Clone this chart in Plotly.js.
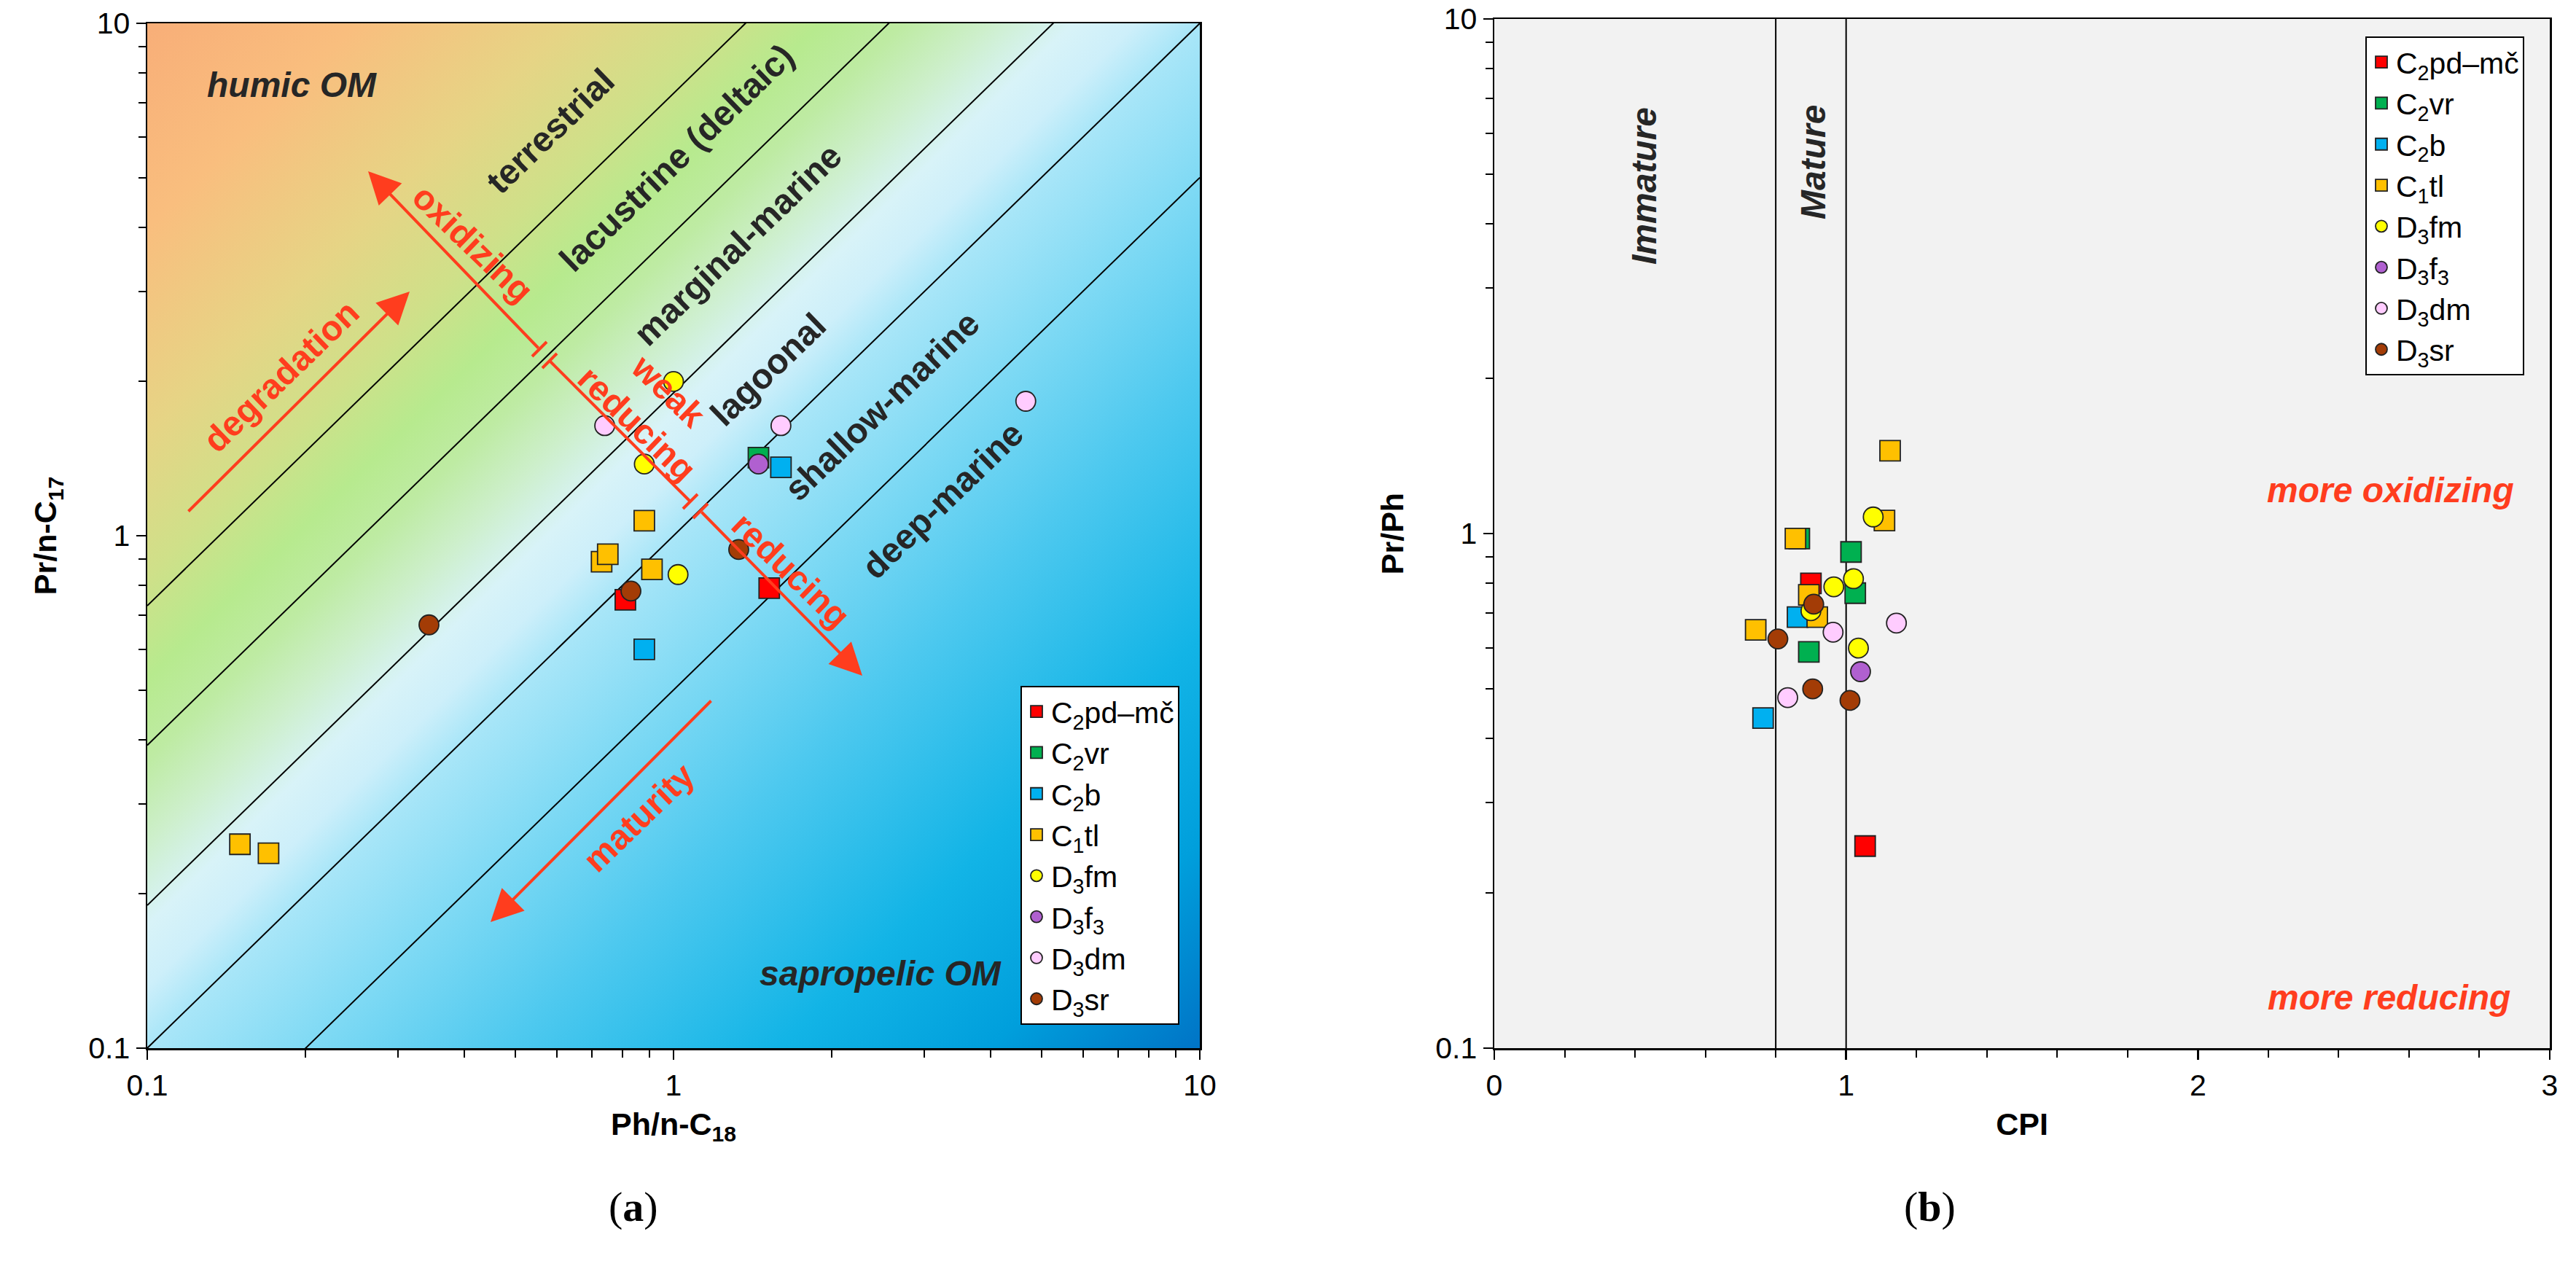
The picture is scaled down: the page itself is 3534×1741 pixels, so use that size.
<!DOCTYPE html>
<html>
<head>
<meta charset="utf-8">
<script src="https://cdn.plot.ly/plotly-3.0.1.min.js"></script>
<style>html,body{margin:0;padding:0;background:#fff;}</style>
</head>
<body>
<div id="chart" style="width:3534px;height:1741px;"></div>
<script>
// ---------------- DATA ----------------
const seriesNames = ['C<sub>2</sub>pd–mč','C<sub>2</sub>vr','C<sub>2</sub>b','C<sub>1</sub>tl','D<sub>3</sub>fm','D<sub>3</sub>f<sub>3</sub>','D<sub>3</sub>dm','D<sub>3</sub>sr'];

// (a) Ph/n-C18 (x) vs Pr/n-C17 (y)
const phC18_C2pd = [0.81, 1.52];            const prC17_C2pd = [0.75, 0.79];
const phC18_C2vr = [1.45];                  const prC17_C2vr = [1.42];
const phC18_C2b  = [1.60, 0.88];            const prC17_C2b  = [1.36, 0.60];
const phC18_C1tl = [0.73, 0.75, 0.88, 0.91, 0.15, 0.17];
const prC17_C1tl = [0.89, 0.92, 1.07, 0.86, 0.25, 0.24];
const phC18_D3fm = [1.00, 0.88, 1.02];      const prC17_D3fm = [2.00, 1.38, 0.84];
const phC18_D3f3 = [1.45];                  const prC17_D3f3 = [1.38];
const phC18_D3dm = [0.74, 1.60, 4.67];      const prC17_D3dm = [1.64, 1.64, 1.83];
const phC18_D3sr = [0.343, 0.83, 1.33];     const prC17_D3sr = [0.67, 0.78, 0.94];

// (b) CPI (x) vs Pr/Ph (y)
const cpi_C2pd = [0.90, 1.054];             const prPh_C2pd = [0.80, 0.247];
const cpi_C2vr = [0.867, 1.014, 1.026, 0.894]; const prPh_C2vr = [0.978, 0.921, 0.766, 0.589];
const cpi_C2b  = [0.862, 0.764];            const prPh_C2b  = [0.688, 0.438];
const cpi_C1tl = [1.125, 1.109, 0.856, 0.894, 0.918, 0.743];
const prPh_C1tl = [1.449, 1.06, 0.978, 0.76, 0.688, 0.65];
const cpi_D3fm = [1.077, 1.021, 0.965, 0.900, 1.035];
const prPh_D3fm = [1.077, 0.817, 0.788, 0.708, 0.599];
const cpi_D3f3 = [1.041];                   const prPh_D3f3 = [0.539];
const cpi_D3dm = [1.143, 0.963, 0.834];     const prPh_D3dm = [0.67, 0.643, 0.48];
const cpi_D3sr = [0.908, 0.806, 0.905, 1.011]; const prPh_D3sr = [0.729, 0.624, 0.499, 0.474];

// environment boundaries (a): Pr/n-C17 = k * Ph/n-C18
const boundaryRatios = [7.3, 3.9, 1.9, 1, 0.5];
// (b) dividers
const cpiBounds = [0.8, 1.0];
const prPhBound = 1;

// axis tick labels
const logTickVals = [0.1, 1, 10];
const logTickText = ['0.1', '1', '10'];
const logMinorVals = [0.2, 0.3, 0.4, 0.5, 0.6, 0.7, 0.8, 0.9, 2, 3, 4, 5, 6, 7, 8, 9];

// ---------------- STYLE ----------------
const W = 3534, H = 1741;
const FONT = 'Arial, "Liberation Sans", sans-serif';
const RED = '#FF3D1E';
const DARK = '#262626';
const colors = ['#FF0000','#00B050','#00B0F0','#FFC000','#FFFF00','#B060D0','#FFCCFF','#A33C06'];
const symbols = ['square','square','square','square','circle','circle','circle','circle'];
const sizes = [28,28,28,28,27,27,27,27];

const aX = [phC18_C2pd, phC18_C2vr, phC18_C2b, phC18_C1tl, phC18_D3fm, phC18_D3f3, phC18_D3dm, phC18_D3sr];
const aY = [prC17_C2pd, prC17_C2vr, prC17_C2b, prC17_C1tl, prC17_D3fm, prC17_D3f3, prC17_D3dm, prC17_D3sr];
const bX = [cpi_C2pd, cpi_C2vr, cpi_C2b, cpi_C1tl, cpi_D3fm, cpi_D3f3, cpi_D3dm, cpi_D3sr];
const bY = [prPh_C2pd, prPh_C2vr, prPh_C2b, prPh_C1tl, prPh_D3fm, prPh_D3f3, prPh_D3dm, prPh_D3sr];

function px(x){ return x / W; }
function py(y){ return 1 - y / H; }

const traces = [];
boundaryRatios.forEach(k => {
  traces.push({type:'scatter', mode:'lines', x:[0.1, 10], y:[0.1*k, 10*k],
    xaxis:'x', yaxis:'y', line:{color:'black', width:2}, showlegend:false, hoverinfo:'skip'});
});
for (let i = 0; i < seriesNames.length; i++) {
  traces.push({type:'scatter', mode:'markers', x:aX[i], y:aY[i], name:seriesNames[i],
    xaxis:'x', yaxis:'y', legend:'legend',
    marker:{symbol:symbols[i], size:sizes[i], color:colors[i], line:{color:'#222', width:1.8}}});
}
for (let i = 0; i < seriesNames.length; i++) {
  traces.push({type:'scatter', mode:'markers', x:bX[i], y:bY[i], name:seriesNames[i],
    xaxis:'x2', yaxis:'y2', legend:'legend2',
    marker:{symbol:symbols[i], size:sizes[i], color:colors[i], line:{color:'#222', width:1.8}}});
}

// gradient background for (a)
const stops = [[0,'#F8AE78'],[0.1,'#F9BE7E'],[0.2,'#E6D485'],[0.27,'#CFE089'],[0.32,'#B7EA8E'],
  [0.36,'#BEEBA3'],[0.4,'#CDEFCB'],[0.44,'#D8F3F8'],[0.47,'#CDEFFA'],[0.5,'#A9E6F8'],
  [0.58,'#7DD9F4'],[0.67,'#4EC9EF'],[0.8,'#12B4E6'],[0.9,'#009FDC'],[1,'#0074C6']];
let svg = "<svg xmlns='http://www.w3.org/2000/svg' width='200' height='200' viewBox='0 0 200 200' preserveAspectRatio='none'><defs><linearGradient id='g' x1='0' y1='0' x2='1' y2='1'>";
stops.forEach(s => { svg += "<stop offset='" + s[0] + "' stop-color='" + s[1] + "'/>"; });
svg += "</linearGradient></defs><rect width='200' height='200' fill='url(#g)'/></svg>";
const gradURI = 'data:image/svg+xml;charset=utf-8,' + encodeURIComponent(svg);

function axisCommon(){
  return {showline:true, linecolor:'black', linewidth:2.5, mirror:true, showgrid:false, zeroline:false,
    ticks:'outside', ticklen:13, tickwidth:2.5, tickcolor:'black',
    tickfont:{family:FONT, size:41, color:'black'}, fixedrange:true};
}
const titleFont = {family:FONT, size:43, color:'black', weight:'bold'};
const minorLog = {tickmode:'array', tickvals:logMinorVals, ticks:'outside', ticklen:10, tickwidth:2, tickcolor:'black', showgrid:false};
const xaxis = Object.assign(axisCommon(), {type:'log', range:[-1,1], domain:[202/W, 1646/W], anchor:'y',
  tickmode:'array', tickvals:logTickVals, ticktext:logTickText, minor:minorLog,
  title:{text:'Ph/n-C<sub>18</sub>', font:titleFont, standoff:16}});
const yaxis = Object.assign(axisCommon(), {type:'log', range:[-1,1], domain:[1-1438/H, 1-32/H], anchor:'x',
  tickmode:'array', tickvals:logTickVals, ticktext:logTickText, minor:minorLog,
  title:{text:'Pr/n-C<sub>17</sub>', font:titleFont, standoff:30}});
const xaxis2 = Object.assign(axisCommon(), {type:'linear', range:[0,3], domain:[2050/W, 3498/W], anchor:'y2',
  dtick:1, tick0:0, minor:{dtick:0.2, ticks:'outside', ticklen:10, tickwidth:2, tickcolor:'black', showgrid:false},
  title:{text:'CPI', font:titleFont, standoff:16}});
const yaxis2 = Object.assign(axisCommon(), {type:'log', range:[-1,1], domain:[1-1438/H, 1-26/H], anchor:'x2',
  tickmode:'array', tickvals:logTickVals, ticktext:logTickText, minor:minorLog,
  title:{text:'Pr/Ph', font:titleFont, standoff:30}});

// annotations
const ann = [];
function label(text, x, y, angle, color, size, italic){
  ann.push({xref:'paper', yref:'paper', x:px(x), y:py(y), text:text, showarrow:false,
    textangle:angle, xanchor:'center', yanchor:'middle',
    font:{family:FONT, size:size, color:color, weight:'bold', style: italic ? 'italic' : 'normal'}});
}
label('humic OM', 400, 116, 0, DARK, 48, true);
label('terrestrial', 754, 180, -44, DARK, 48, false);
label('lacustrine (deltaic)', 928, 216, -44, DARK, 48, false);
label('marginal-marine', 1012, 335, -44, DARK, 48, false);
label('lagoonal', 1053, 507, -44, DARK, 48, false);
label('shallow-marine', 1209, 557, -44, DARK, 48, false);
label('deep-marine', 1293, 687, -44, DARK, 48, false);
label('sapropelic OM', 1208, 1335, 0, DARK, 48, true);
label('degradation', 385, 516, -44, RED, 48, false);
label('oxidizing', 649, 334, 44, RED, 48, false);
label('weak<br>reducing', 895, 559, 44, RED, 48, false);
label('reducing', 1085, 782, 44, RED, 48, false);
label('maturity', 876, 1121, -44, RED, 48, false);
label('Immature', 2256, 255, -90, DARK, 48, true);
label('Mature', 2488, 223, -90, DARK, 48, true);
label('more oxidizing', 3279, 672, 0, RED, 48, true);
label('more reducing', 3277, 1368, 0, RED, 48, true);
ann.push({xref:'paper', yref:'paper', x:px(833), y:py(1690), text:'(<b>a</b>)', showarrow:false,
  font:{family:'"Liberation Serif", "DejaVu Serif", serif', size:58, color:'black'}});
ann.push({xref:'paper', yref:'paper', x:px(2685), y:py(1690), text:'(<b>b</b>)', showarrow:false,
  font:{family:'"Liberation Serif", "DejaVu Serif", serif', size:58, color:'black'}});

function arrow(tx, ty, hx, hy){
  ann.push({xref:'paper', yref:'paper', x:px(hx), y:py(hy), ax:tx-hx, ay:ty-hy, text:'',
    showarrow:true, arrowhead:2, arrowsize:2.2, arrowwidth:4, arrowcolor:RED, standoff:0, startstandoff:0});
}
arrow(257, 703, 562, 400);   // degradation
arrow(740, 479, 505, 235);   // oxidizing
arrow(961, 701, 1183, 927);  // reducing
arrow(977, 960, 673, 1265);  // maturity

const shapes = [];
// (b) background
shapes.push({type:'rect', xref:'x2 domain', yref:'y2 domain', x0:0, x1:1, y0:0, y1:1,
  fillcolor:'#F2F2F2', line:{width:0}, layer:'below'});
cpiBounds.forEach(c => shapes.push({type:'line', xref:'x2', yref:'y2 domain', x0:c, x1:c, y0:0, y1:1,
  line:{color:'black', width:2}, layer:'below'}));
shapes.push({type:'line', xref:'x2 domain', yref:'y2', x0:0, x1:1, y0:Math.log10(prPhBound), y1:Math.log10(prPhBound),
  line:{color:'black', width:2}, layer:'below'});
// weak reducing segment and T bars (a)
shapes.push({type:'line', xref:'paper', yref:'paper', x0:px(754), y0:py(495), x1:px(947), y1:py(688),
  line:{color:RED, width:4}});
[[740,479],[754,495],[947,688],[961,701]].forEach(p => {
  shapes.push({type:'line', xref:'paper', yref:'paper', x0:px(p[0]-10), y0:py(p[1]+10), x1:px(p[0]+10), y1:py(p[1]-10),
    line:{color:RED, width:4}});
});

const legendCommon = {bgcolor:'white', bordercolor:'black', borderwidth:2, xanchor:'left', yanchor:'top',
  font:{family:FONT, size:41, color:'black'}, itemsizing:'trace', tracegroupgap:0};

const layout = {
  width:W, height:H, autosize:false, margin:{l:0, r:0, t:0, b:0, pad:0},
  paper_bgcolor:'white', plot_bgcolor:'rgba(0,0,0,0)',
  font:{family:FONT, color:'black'},
  xaxis:xaxis, yaxis:yaxis, xaxis2:xaxis2, yaxis2:yaxis2,
  legend:Object.assign({x:px(1400), y:py(941)}, legendCommon),
  legend2:Object.assign({x:px(3245), y:py(50)}, legendCommon),
  annotations:ann, shapes:shapes,
  images:[{source:gradURI, xref:'x', yref:'y', x:-1, y:1, sizex:2, sizey:2,
    xanchor:'left', yanchor:'top', sizing:'stretch', layer:'below'}]
};

Plotly.newPlot('chart', traces, layout, {staticPlot:true, displayModeBar:false});
</script>
</body>
</html>
